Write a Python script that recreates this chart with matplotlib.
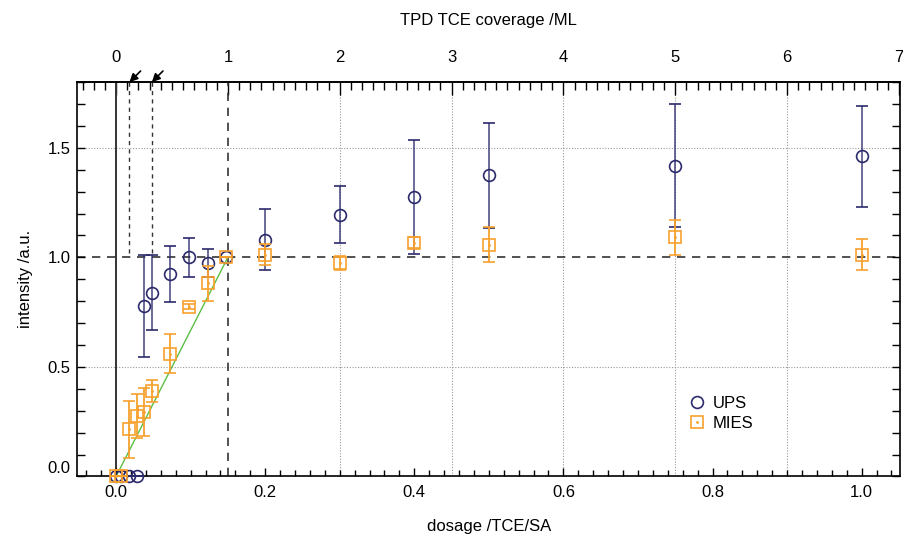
import matplotlib
matplotlib.use("Agg")
import matplotlib.pyplot as plt
from matplotlib.ticker import MultipleLocator
from matplotlib.legend_handler import HandlerTuple

plt.rcParams["font.family"] = ["Liberation Sans", "DejaVu Sans"]
plt.rcParams["font.size"] = 12

# dosage /TCE/SA ; 1 ML (TPD) corresponds to 0.15 TCE/SA
ML_DOSE = 0.15

ups_x = [0.0, 0.007, 0.018, 0.028, 0.038, 0.048, 0.073, 0.098, 0.123, 0.148,
         0.2, 0.3, 0.4, 0.5, 0.75, 1.0]
ups_y = [0.0, 0.0, 0.0, 0.0, 0.777, 0.839, 0.924, 1.0, 0.974, 1.0,
         1.081, 1.195, 1.275, 1.374, 1.419, 1.462]
ups_err = [0.0, 0.0, 0.0, 0.0, 0.232, 0.17, 0.13, 0.09, 0.065, 0.0,
           0.139, 0.13, 0.26, 0.238, 0.28, 0.231]

mies_x = [0.0, 0.007, 0.018, 0.028, 0.038, 0.048, 0.073, 0.098, 0.123, 0.148,
          0.2, 0.3, 0.4, 0.5, 0.75, 1.0]
mies_y = [0.0, 0.0, 0.216, 0.277, 0.295, 0.389, 0.561, 0.774, 0.881, 1.0,
          1.013, 0.974, 1.066, 1.058, 1.092, 1.013]
mies_err = [0.0, 0.0, 0.13, 0.1, 0.11, 0.05, 0.088, 0.012, 0.08, 0.0,
            0.05, 0.03, 0.025, 0.079, 0.08, 0.071]

# linear fit of the initial MIES rise
fit_x = [0.0, 0.15]
fit_y = [0.0, 1.0]

# positions marked with arrows on the top axis (dosage)
marked_x = [0.018, 0.048]
grid_ml = [2, 3, 4, 5, 6]

navy = "#2b2a6c"
orange = "#f7a12e"

fig = plt.figure(figsize=(9.04, 5.35), dpi=100)
ax = fig.add_axes([0.0855, 0.1095, 0.9105, 0.737])

ax.set_xlim(-0.052, 1.052)
ax.set_ylim(0.0, 1.8)

# reference lines
ax.axhline(1.0, color="#333333", lw=1.2, ls=(0, (5, 4)), zorder=1)
ax.axhline(0.5, color="#999999", lw=0.8, ls=(0, (1, 1.5)), zorder=0)
ax.axhline(1.5, color="#999999", lw=0.8, ls=(0, (1, 1.5)), zorder=0)
for m in grid_ml:
    ax.axvline(m * ML_DOSE, color="#999999", lw=0.8, ls=(0, (1, 1.5)), zorder=0)
ax.axvline(0.0, color="#333333", lw=1.4, zorder=1)
ax.axvline(ML_DOSE, color="#333333", lw=1.2, ls=(0, (5, 4)), zorder=1)
for xm in marked_x:
    ax.axvline(xm, ymin=1.02 / 1.8, ymax=1.0, color="#333333", lw=1.0,
               ls=(0, (3, 3)), zorder=1)
    ax.annotate("", xy=(xm, 1.8), xytext=(8, 8), textcoords="offset points",
                arrowprops=dict(arrowstyle="-|>", color="k", lw=1.2,
                                mutation_scale=12, shrinkA=0, shrinkB=0),
                annotation_clip=False)

ax.plot(fit_x, fit_y, color="#5cbf45", lw=1.0, zorder=2)

eb1 = ax.errorbar(ups_x, ups_y, yerr=ups_err, fmt="o", ms=8.5, mfc="none",
                  mec=navy, mew=1.2, ecolor=navy, elinewidth=1.3, capsize=4,
                  capthick=1.2, zorder=3, clip_on=False)
eb1[2][0].set_alpha(0.75)
eb2 = ax.errorbar(mies_x, mies_y, yerr=mies_err, fmt="s", ms=8, mfc="none",
                  mec=orange, mew=1.2, ecolor=orange, elinewidth=1.3, capsize=4,
                  capthick=1.2, zorder=4, clip_on=False)
dots, = ax.plot(mies_x, mies_y, ".", ms=2, color=orange, zorder=4, clip_on=False)

ax.legend([eb1[0], (eb2[0], dots)], ["UPS", "MIES"], loc="upper left",
          bbox_to_anchor=(0.735, 0.225), frameon=False, handlelength=0.8,
          handletextpad=0.5, labelspacing=0.3, borderpad=0, fontsize=12,
          handler_map={tuple: HandlerTuple(ndivide=1, pad=0)})

# ticks
ax.xaxis.set_major_locator(MultipleLocator(0.2))
ax.xaxis.set_minor_locator(MultipleLocator(0.02))
ax.yaxis.set_major_locator(MultipleLocator(0.5))
ax.yaxis.set_minor_locator(MultipleLocator(0.1))
ax.xaxis.set_major_formatter(lambda v, p: f"{v:.1f}")
ax.yaxis.set_major_formatter(lambda v, p: f"{v:.1f}")
ax.tick_params(axis="x", which="major", direction="in", length=6, width=1, pad=6,
               top=False)
ax.tick_params(axis="x", which="minor", direction="in", length=4, width=1, top=False)
ax.tick_params(axis="y", which="major", direction="in", length=6, width=1, pad=5,
               right=True)
ax.tick_params(axis="y", which="minor", direction="in", length=6, width=1, right=True)
for s in ax.spines.values():
    s.set_linewidth(1.2)

secax = ax.secondary_xaxis("top", functions=(lambda d: d / ML_DOSE,
                                             lambda c: c * ML_DOSE))
secax.xaxis.set_major_locator(MultipleLocator(1))
secax.xaxis.set_minor_locator(MultipleLocator(0.1))
secax.tick_params(which="major", direction="in", length=9, width=1, pad=12.5)
secax.tick_params(which="minor", direction="in", length=6, width=1)
secax.spines["top"].set_linewidth(1.2)
secax.set_xlabel("TPD TCE coverage /ML", labelpad=18)

ax.set_xlabel("dosage /TCE/SA", labelpad=14)
ax.set_ylabel("intensity /a.u.", labelpad=10)

fig.canvas.draw()
for lab in ax.get_yticklabels():
    if lab.get_text() == "0.0":
        lab.set_verticalalignment("bottom")

fig.savefig("out.png", dpi=100)
